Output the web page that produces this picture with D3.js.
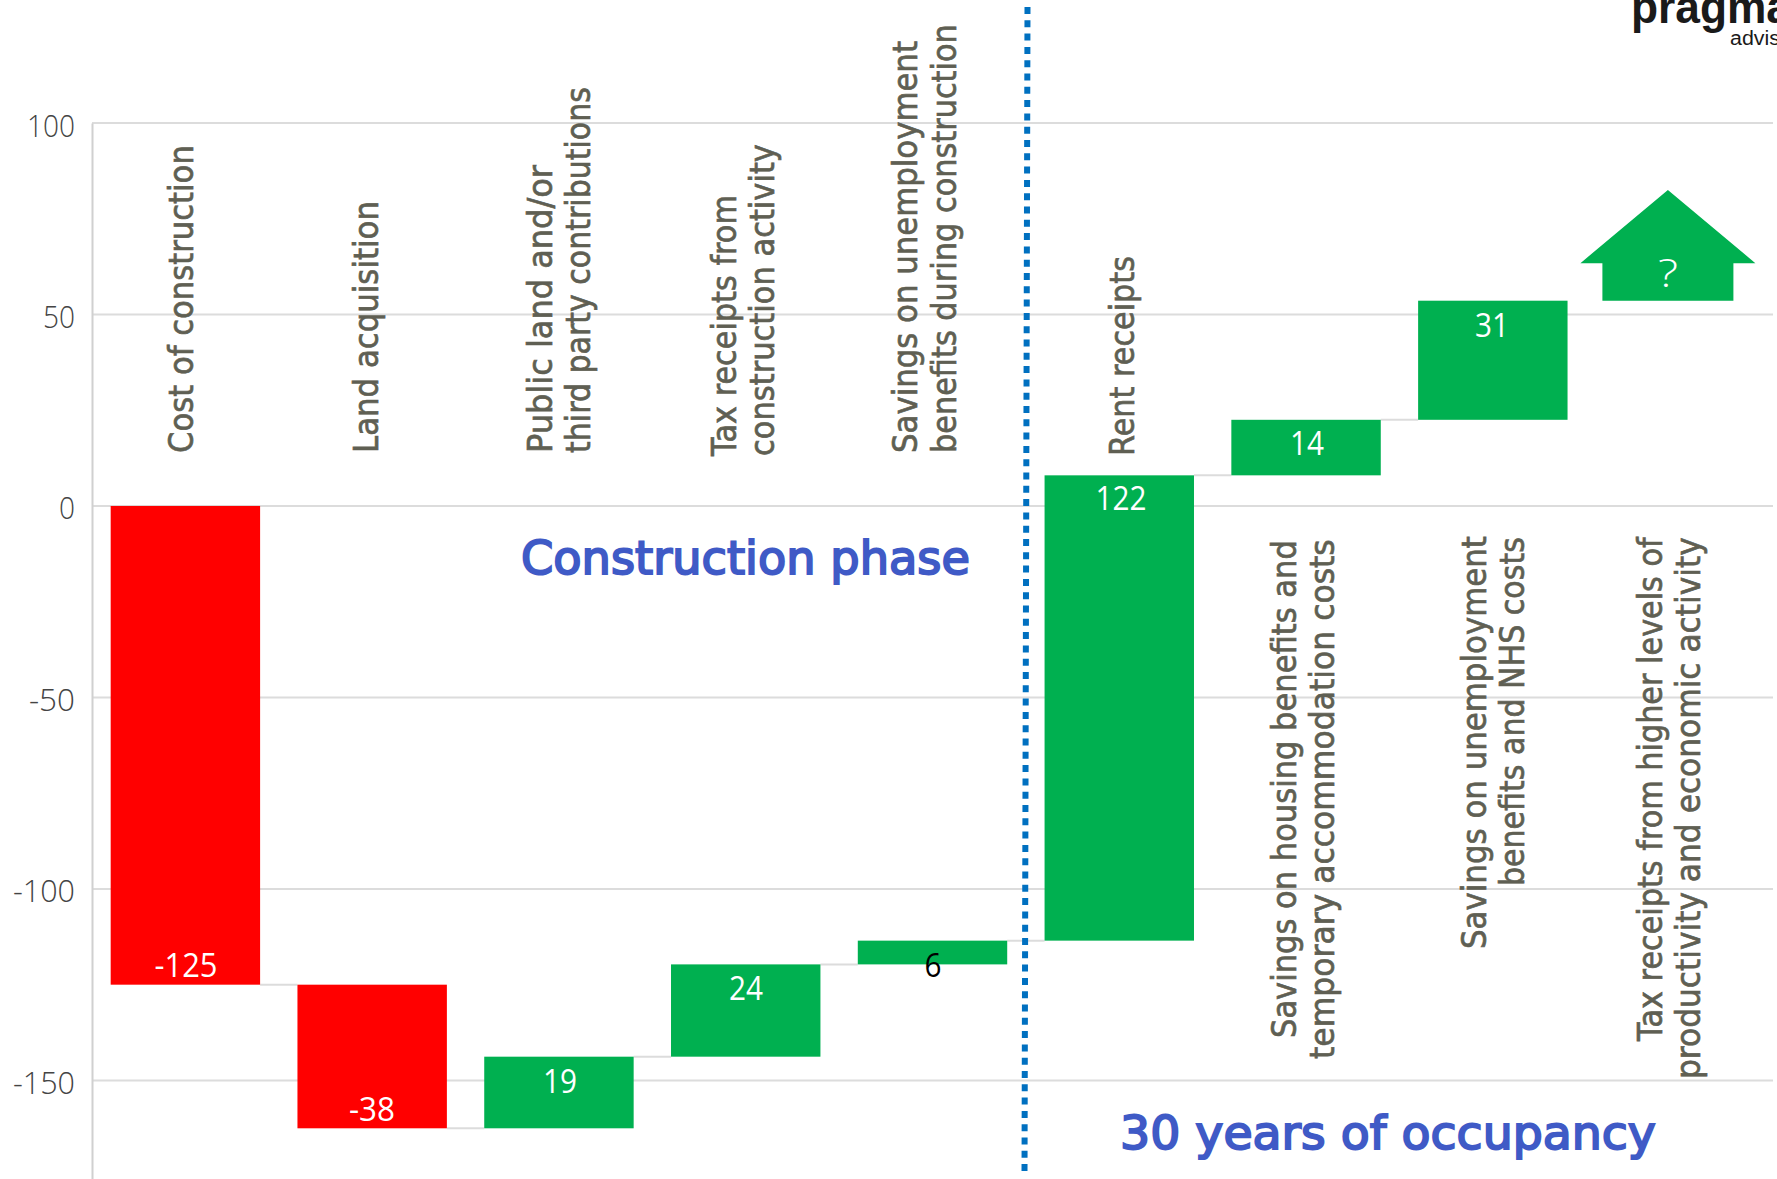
<!DOCTYPE html>
<html><head><meta charset="utf-8">
<style>html,body{margin:0;padding:0;background:#fff;overflow:hidden}svg{display:block}</style>
<script src="https://cdn.jsdelivr.net/npm/d3@7"></script></head>
<body><svg id="c" width="1777" height="1179"></svg>
<script>
const categories=["Cost of construction","Land acquisition","Public land and/or third party contributions","Tax receipts from construction activity","Savings on unemployment benefits during construction","Rent receipts","Savings on housing benefits and temporary accommodation costs","Savings on unemployment benefits and NHS costs","Tax receipts from higher levels of productivity and economic activity"];
const deltas=[-125,-37.5,18.7,24.1,6.2,121.5,14.5,31.1];
const valueLabels=["-125","-38","19","24","6","122","14","31","?"];
const houseShape=[53.6,63.4,82.5];
const yTicks=[100,50,0,-50,-100,-150];
const catLines=[["Cost of construction"],["Land acquisition"],["Public land and/or","third party contributions"],["Tax receipts from","construction activity"],["Savings on unemployment","benefits during construction"],["Rent receipts"],["Savings on housing benefits and","temporary accommodation costs"],["Savings on unemployment","benefits and NHS costs"],["Tax receipts from higher levels of","productivity and economic activity"]];
// layout of rotated label lines: [baseline x, bottom y, top y]
const lineBoxes=[[[193,453,145]],[[378,453,201]],[[552,453,165],[590,453,87]],[[736,456,195],[774,456,144]],[[917,453,41],[956,453,24]],[[1134,456,256]],[[1296,1038,540],[1334,1059,539]],[[1486,949,536],[1524,886,537]],[[1662,1041,537],[1700,1079,537]]];
const valueOffsets=[[186,977],[372,1121],[560,1093],[746,1000],[933,977],[1121,510],[1307,455],[1492,337],[1668,287]];

const svg=d3.select("#c");
const x=d3.scaleBand().domain(categories).range([92,1773]).paddingInner(.2).paddingOuter(.1);
const y=d3.scaleLinear().domain([100,-176]).range([123,1180]);
const GRID="#dcdcdc",GREEN="#00b050",RED="#ff0000";

// grid
svg.append("g").selectAll("line").data(yTicks).join("line")
 .attr("x1",92).attr("x2",1773).attr("y1",d=>y(d)).attr("y2",d=>y(d))
 .attr("stroke",GRID).attr("stroke-width",2);

// axis
const ax=svg.append("g").attr("transform","translate(92,0)")
 .call(d3.axisLeft(y).tickValues(yTicks).tickSize(0).tickPadding(17).tickFormat(String));
ax.select(".domain").attr("stroke","#d0d0d0").attr("stroke-width",2);
ax.selectAll("text").attr("font-family","'Open Sans'").attr("font-size",31).attr("font-weight",300).attr("fill","#444")
 .attr("dy",null)
 .attr("y",13)
 .each(function(d){const s=String(Math.abs(d));this.setAttribute("textLength",s.length*16+(d<0?14:0));this.setAttribute("lengthAdjust","spacingAndGlyphs");});

// waterfall
let run=0;
const bars=deltas.map((d,i)=>{const s=run;run+=d;return {i,start:s,end:run,d,cat:categories[i]};});

// connectors
svg.append("g").selectAll("line").data(bars.slice(0,-1)).join("line")
 .attr("x1",d=>x(d.cat)+x.bandwidth()).attr("x2",d=>x(categories[d.i+1]))
 .attr("y1",d=>y(d.end)).attr("y2",d=>y(d.end)).attr("stroke",GRID).attr("stroke-width",2);
svg.append("g").selectAll("rect").data(bars).join("rect")
 .attr("x",d=>x(d.cat)).attr("width",x.bandwidth())
 .attr("y",d=>y(Math.max(d.start,d.end))).attr("height",d=>Math.abs(y(d.start)-y(d.end)))
 .attr("fill",d=>d.d<0?RED:GREEN);

// house-shaped arrow
const hc=x(categories[8])+63;
const [hb,he,ha]=houseShape.map(v=>y(v));
svg.append("path").attr("fill",GREEN)
 .attr("d",`M${hc-65.5},${hb}V${he}H${hc-87.5}L${hc},${ha}L${hc+87.5},${he}H${hc+65.5}V${hb}Z`);

// dotted divider
svg.append("line").attr("x1",1027.5).attr("y1",7).attr("x2",1024.5).attr("y2",1175)
 .attr("stroke","#0070c0").attr("stroke-width",6).attr("stroke-dasharray","7 6.3");

// value labels
svg.append("g").selectAll("text").data(valueLabels).join("text")
 .attr("x",(d,i)=>valueOffsets[i][0]).attr("y",(d,i)=>valueOffsets[i][1])
 .attr("text-anchor","middle").attr("font-family","'Open Sans'")
 .attr("font-size",d=>d==="?"?38:32).attr("font-weight",d=>d==="?"?300:400)
 .attr("fill",(d,i)=>i===4?"#000":"#fff")
 .text(d=>d)
 .attr("textLength",d=>d==="?"?20:(d.replace("-","").length*17+(d[0]==="-"?12:0)))
 .attr("lengthAdjust","spacingAndGlyphs");

// rotated category labels, squeezed along their length to the measured span
const lines=catLines.flatMap((ls,i)=>ls.map((t,j)=>({t,b:lineBoxes[i][j]})));
svg.append("g").selectAll("text").data(lines).join("text")
 .attr("font-family","'DejaVu Sans'").attr("font-size",34).attr("fill","#5f5f53")
 .attr("stroke","#5f5f53").attr("stroke-width",.7)
 .text(d=>d.t)
 .attr("transform",function(d){const k=(d.b[1]-d.b[2])/this.getComputedTextLength();
   return `translate(${d.b[0]},${d.b[1]}) rotate(-90) scale(${k},1)`;});

// phase titles
const titles=[["Construction phase",521,970,574],["30 years of occupancy",1120,1656,1149]];
svg.append("g").selectAll("text").data(titles).join("text")
 .attr("font-family","'DejaVu Sans'").attr("font-weight",400).attr("font-size",47).attr("fill","#3f5ac6")
 .attr("stroke","#3f5ac6").attr("stroke-width",2)
 .text(d=>d[0])
 .attr("transform",function(d){const k=(d[2]-d[1])/this.getComputedTextLength();
   return `translate(${d[1]},${d[3]}) scale(${k},1)`;});

// logo
svg.append("text").attr("x",1631).attr("y",23).attr("font-family","'Liberation Sans'").attr("font-weight",700)
 .attr("font-size",46).attr("fill","#1a1a1a").attr("textLength",160).attr("lengthAdjust","spacingAndGlyphs").text("pragma");
svg.append("text").attr("x",1730).attr("y",45).attr("font-family","'Liberation Sans'")
 .attr("font-size",20).attr("fill","#1a1a1a").attr("textLength",50).attr("lengthAdjust","spacingAndGlyphs").text("advis");
</script></body></html>
